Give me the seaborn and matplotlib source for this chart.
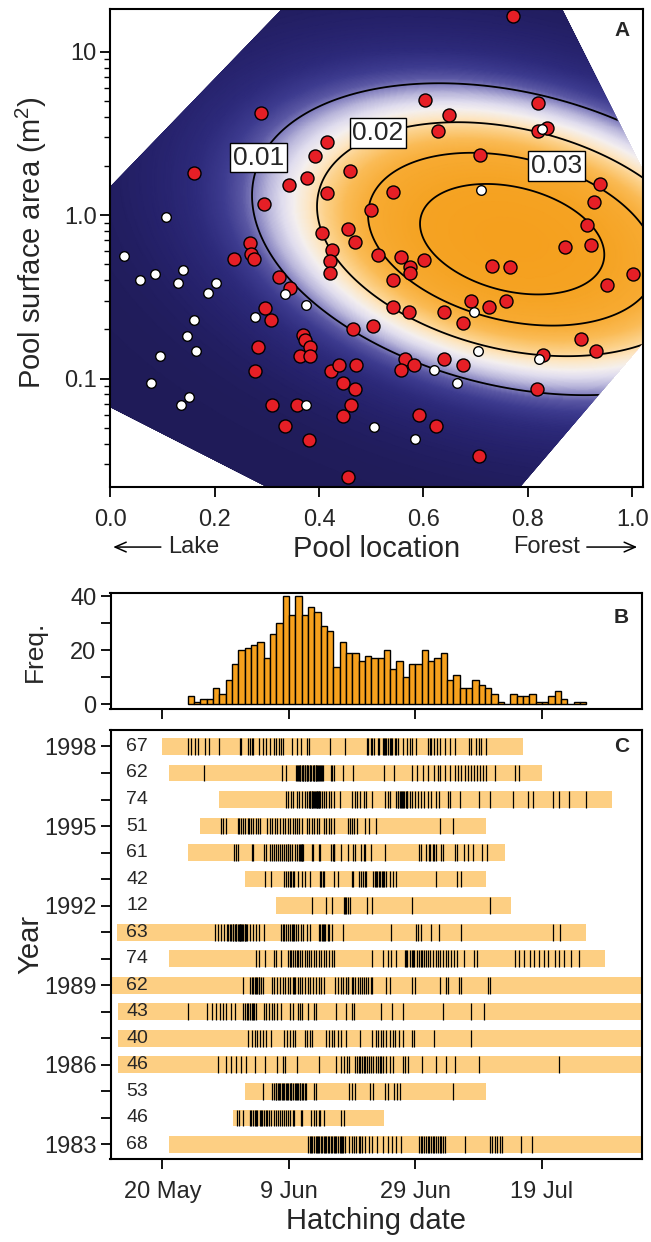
import numpy as np
import pandas as pd
import matplotlib
matplotlib.use("Agg")
import matplotlib.pyplot as plt
import seaborn as sns
from matplotlib.colors import LinearSegmentedColormap
from matplotlib.patches import Polygon
from matplotlib.ticker import FixedLocator, NullFormatter

# ---------------- Panel A data ----------------
red_location = [0.771, 0.289, 0.160, 0.416, 0.392, 0.460, 0.376, 0.343, 0.416, 0.294, 0.500, 0.406, 0.455,
                0.469, 0.268, 0.602, 0.648, 0.819, 0.628, 0.836, 0.820, 0.708, 0.938, 0.927, 0.914, 0.542,
                0.871, 0.922, 0.269, 0.276, 0.236, 0.425, 0.421, 0.421, 0.323, 0.344, 0.297, 0.308, 0.465,
                0.503, 0.370, 0.373, 0.382, 0.364, 0.382, 0.283, 0.278, 0.423, 0.439, 0.470, 0.446, 0.468,
                0.309, 0.357, 0.462, 0.446, 0.335, 0.381, 0.456, 0.513, 0.557, 0.574, 0.575, 0.601, 0.542,
                0.731, 0.766, 1.001, 0.952, 0.691, 0.725, 0.759, 0.542, 0.573, 0.640, 0.676, 0.901, 0.931,
                0.829, 0.564, 0.556, 0.582, 0.639, 0.676, 0.818, 0.591, 0.624, 0.707]
red_area = [16.6, 4.23, 1.80, 2.81, 2.30, 1.87, 1.68, 1.52, 1.37, 1.17, 1.07, 0.78, 0.82,
            0.69, 0.68, 5.06, 4.13, 4.83, 3.28, 3.40, 3.28, 2.33, 1.55, 1.21, 0.87, 1.39,
            0.64, 0.655, 0.58, 0.54, 0.54, 0.61, 0.525, 0.44, 0.42, 0.356, 0.272, 0.228, 0.20,
            0.21, 0.184, 0.173, 0.156, 0.138, 0.138, 0.156, 0.112, 0.112, 0.121, 0.121, 0.0946, 0.0858,
            0.0685, 0.0685, 0.0685, 0.0594, 0.0509, 0.042, 0.025, 0.574, 0.556, 0.483, 0.44, 0.528, 0.40,
            0.492, 0.483, 0.435, 0.373, 0.30, 0.273, 0.30, 0.275, 0.256, 0.256, 0.22, 0.175, 0.148,
            0.139, 0.131, 0.113, 0.121, 0.131, 0.121, 0.0861, 0.0597, 0.0511, 0.0335]
white_location = [0.107, 0.828, 0.710, 0.026, 0.057, 0.085, 0.139, 0.129, 0.203, 0.188, 0.335, 0.374,
                  0.278, 0.161, 0.147, 0.164, 0.095, 0.077, 0.150, 0.136, 0.374, 0.505, 0.697, 0.705,
                  0.821, 0.620, 0.665, 0.583]
white_area = [0.98, 3.36, 1.42, 0.564, 0.40, 0.435, 0.463, 0.382, 0.382, 0.336, 0.329, 0.281,
              0.237, 0.228, 0.182, 0.148, 0.138, 0.0946, 0.0773, 0.0685, 0.0685, 0.0506, 0.255, 0.148,
              0.131, 0.113, 0.094, 0.0424]

# fitted density surface (bivariate normal in location x log10(area))
surf_center = [0.77, -0.147]
surf_sd = [0.28, 0.536]
surf_rho = -0.28
surf_peak = 0.0488
contour_levels = [0.01, 0.02, 0.03, 0.04]
contour_labels = ["0.01", "0.02", "0.03"]
contour_label_pos = [(0.284, 2.25), (0.513, 3.18), (0.855, 2.0)]
# region where the surface is drawn
region = [(0.0, 0.0671), (0.0, 1.49), (0.328, 18.4), (0.865, 18.4), (1.02, 1.88),
          (1.02, 0.164), (0.785, 0.0217), (0.30, 0.0217)]

# ---------------- Panel B data ----------------
hist_first_day = 4  # days after 20 May
hist_counts = [3, 1, 2, 2, 6, 4, 9, 15, 20, 21,
               22, 23, 17, 26, 30, 40, 33, 40, 33, 36,
               34, 29, 27, 14, 23, 19, 19, 16, 18, 17,
               17, 20, 13, 16, 10, 15, 15, 20, 16, 17,
               19, 9, 11, 6, 6, 9, 7, 6, 4, 1,
               0, 4, 3, 3, 4, 1, 1, 3, 5, 2,
               0, 1, 1]

# ---------------- Panel C data ----------------
years = [1998, 1997, 1996, 1995, 1994, 1993, 1992, 1991, 1990, 1989, 1988, 1987, 1986, 1985, 1984, 1983]
n_broods = [67, 62, 74, 51, 61, 42, 12, 63, 74, 62, 43, 40, 46, 53, 46, 68]
season_start = [0, 1, 9, 6, 4, 13, 18, -7.1, 1, -8, -7, -7, -7, 13, 11.1, 1]
season_end = [57, 60, 71.1, 51.1, 54.1, 51.1, 55.1, 67, 70, 80, 80, 80, 80, 51.1, 35, 80]

hatch_1998 = [4.1, 4.6, 5.1, 5.7, 6.8, 7.3, 9.0, 12.2, 12.5, 13.5, 13.8, 14.1, 14.4, 15.2, 15.9, 16.4, 17.0,
              17.6, 17.9, 18.4, 18.8, 19.1, 20.5, 21.2, 21.9, 22.9, 23.1, 26.5, 28.8, 32.3, 32.5, 32.9, 33.2,
              33.5, 34.0, 34.3, 34.9, 35.1, 35.2, 35.4, 35.6, 35.9, 36.1, 36.3, 36.7, 37.0, 37.2, 38.1, 38.6,
              39.1, 39.4, 40.1, 42.0, 42.3, 42.5, 43.0, 43.4, 43.8, 44.7, 45.5, 46.3, 48.5, 48.8, 49.6, 50.0,
              50.4, 51.1]
hatch_1997 = [6.5, 18.9, 19.5, 21.1, 21.2, 21.4, 21.6, 21.7, 21.8, 22.0, 22.2, 22.3, 22.5, 22.6, 22.8, 22.9,
              23.0, 23.3, 23.4, 23.5, 23.8, 23.9, 24.0, 24.2, 24.3, 24.5, 24.6, 24.8, 24.9, 25.0, 25.2, 25.4,
              26.6, 26.8, 27.1, 28.6, 30.2, 35.1, 36.6, 39.5, 40.3, 41.2, 42.0, 42.9, 43.5, 43.9, 44.7, 45.5,
              46.2, 46.7, 47.2, 47.8, 48.3, 48.7, 49.3, 49.7, 50.2, 50.6, 51.1, 52.6, 55.7, 56.4]
hatch_1996 = [19.5, 19.9, 20.4, 20.7, 21.2, 21.6, 22.1, 22.5, 22.9, 23.1, 23.3, 23.4, 23.6, 23.7, 23.8, 23.9,
              24.1, 24.3, 24.4, 24.5, 24.6, 24.7, 24.8, 24.9, 25.3, 25.6, 25.9, 26.3, 26.7, 27.1, 28.0, 30.0,
              30.4, 30.8, 31.2, 31.8, 32.2, 33.2, 35.2, 35.6, 35.9, 37.0, 37.2, 37.3, 37.5, 37.7, 37.8, 38.0,
              38.2, 38.5, 38.6, 38.7, 39.1, 39.4, 39.9, 40.4, 40.8, 41.4, 41.9, 42.4, 43.3, 43.7, 45.1, 45.4,
              47.0, 50.1, 51.8, 55.4, 57.8, 58.6, 61.7, 62.7, 64.2, 66.9]
hatch_1995 = [9.3, 9.6, 10.0, 11.9, 12.1, 12.4, 12.8, 13.1, 13.5, 13.7, 14.0, 14.4, 14.8, 15.1, 15.4, 16.6,
              17.0, 17.4, 17.8, 18.1, 18.6, 19.0, 19.3, 19.8, 20.2, 20.6, 20.9, 21.3, 21.6, 22.0, 22.8, 23.1,
              23.6, 23.9, 24.4, 24.7, 25.6, 25.9, 26.3, 26.7, 27.1, 29.3, 29.6, 30.0, 30.3, 30.7, 32.1, 32.6,
              33.7, 43.8, 46.0]
hatch_1994 = [11.3, 11.6, 12.0, 14.1, 14.4, 16.0, 16.4, 17.0, 17.4, 17.7, 17.9, 18.2, 18.6, 18.9, 19.2, 19.5,
              19.8, 19.9, 20.2, 20.5, 20.9, 21.3, 21.6, 21.8, 21.9, 22.0, 22.1, 22.3, 23.6, 23.8, 24.7, 24.9,
              26.6, 26.9, 27.1, 27.2, 28.2, 29.3, 30.1, 30.5, 31.4, 31.8, 32.1, 33.0, 35.2, 40.5, 40.9, 41.6,
              42.2, 42.3, 42.7, 43.0, 43.3, 44.1, 44.4, 46.3, 46.6, 47.7, 48.3, 49.1, 50.5, 51.3]
hatch_1993 = [16.2, 17.2, 19.2, 19.5, 19.8, 20.1, 20.4, 20.6, 20.8, 21.5, 22.0, 22.6, 23.4, 24.9, 25.1, 25.4,
              25.6, 27.1, 27.7, 29.9, 30.2, 31.1, 31.4, 31.7, 32.0, 32.2, 33.3, 33.6, 33.8, 33.9, 34.2, 34.4,
              34.7, 34.9, 35.0, 35.4, 36.0, 36.5, 37.0, 43.2, 46.5, 47.2]
hatch_1992 = [23.7, 25.8, 26.8, 28.7, 28.8, 29.0, 29.3, 29.6, 32.4, 33.2, 39.4, 51.7]
hatch_1991 = [8.3, 8.8, 9.3, 9.7, 10.2, 10.4, 10.7, 10.9, 11.1, 11.2, 11.4, 11.6, 11.7, 11.9, 12.1, 12.2, 12.3,
              12.5, 12.6, 12.7, 13.0, 13.1, 13.2, 13.4, 13.9, 14.3, 14.8, 15.3, 16.0, 18.7, 19.0, 19.2, 19.5,
              19.8, 20.1, 20.5, 20.6, 20.8, 21.1, 21.5, 21.9, 22.3, 22.9, 23.4, 24.7, 24.9, 25.2, 25.4, 25.5,
              25.7, 26.1, 26.4, 26.8, 28.5, 36.1, 40.1, 40.4, 40.8, 42.4, 43.7, 47.2, 61.7, 62.9]
hatch_1990 = [14.8, 15.3, 16.2, 17.6, 17.9, 18.8, 19.9, 20.1, 20.4, 20.6, 20.9, 21.2, 21.5, 21.8, 22.1, 22.5,
              22.8, 23.1, 23.5, 23.9, 24.3, 24.7, 25.1, 25.5, 25.9, 26.4, 26.8, 27.2, 33.1, 34.9, 35.6, 36.1,
              37.0, 38.4, 38.5, 38.7, 39.1, 39.4, 39.6, 39.8, 40.3, 40.5, 40.8, 41.0, 41.3, 41.6, 41.9, 42.3,
              42.7, 43.2, 43.5, 43.9, 44.4, 44.8, 45.2, 45.6, 46.1, 46.6, 47.6, 49.3, 49.7, 55.7, 56.4, 57.2,
              58.1, 58.8, 59.5, 60.3, 61.0, 62.0, 62.7, 63.5, 64.5, 65.9]
hatch_1989 = [12.7, 13.9, 14.1, 14.4, 14.6, 14.8, 15.0, 15.2, 15.3, 15.6, 15.9, 17.3, 17.7, 18.1, 18.6, 19.0,
              19.3, 19.8, 20.2, 20.6, 20.8, 21.0, 21.4, 21.7, 22.1, 22.6, 23.0, 23.4, 23.8, 24.3, 24.7, 25.1,
              25.5, 27.3, 27.7, 28.2, 28.6, 29.0, 29.3, 29.4, 29.9, 30.2, 30.5, 30.9, 31.2, 31.5, 31.9, 32.2,
              32.5, 32.9, 33.2, 35.3, 35.9, 39.5, 40.0, 43.9, 44.8, 45.2, 46.9, 47.2, 51.4, 51.7]
hatch_1988 = [4.0, 7.1, 7.8, 8.4, 9.1, 9.6, 10.1, 10.8, 11.5, 12.8, 13.0, 13.3, 13.6, 13.9, 14.1, 14.3, 14.5,
              14.8, 16.0, 16.4, 16.9, 17.3, 17.7, 18.1, 18.7, 20.1, 20.6, 21.4, 21.7, 22.1, 23.0, 24.0, 24.3,
              27.5, 29.0, 30.0, 30.3, 34.6, 36.3, 38.0, 44.4, 48.7, 50.8]
hatch_1987 = [13.6, 14.2, 14.6, 15.0, 15.4, 15.9, 16.4, 17.1, 19.2, 19.7, 20.1, 20.6, 21.0, 22.5, 22.9, 23.3,
              23.7, 25.9, 26.4, 26.8, 27.2, 27.7, 28.3, 29.0, 31.3, 33.2, 33.7, 34.0, 34.5, 34.9, 35.3, 35.9,
              36.4, 36.8, 37.4, 38.0, 39.4, 39.8, 42.9, 48.7]
hatch_1986 = [8.8, 10.0, 10.8, 11.6, 12.4, 13.2, 14.6, 16.2, 18.1, 19.0, 19.4, 21.3, 24.7, 27.5, 28.2, 28.7,
              29.2, 29.5, 30.4, 30.7, 31.0, 31.3, 31.5, 31.8, 32.1, 32.4, 32.6, 33.0, 33.3, 33.7, 34.0, 34.4,
              34.6, 34.9, 35.4, 36.0, 36.5, 38.0, 38.4, 38.8, 41.1, 43.2, 44.8, 46.3, 50.1, 62.7]
hatch_1985 = [15.9, 17.4, 17.6, 17.9, 18.0, 18.3, 18.5, 18.6, 18.9, 19.1, 19.2, 19.5, 19.7, 19.8, 20.1, 20.3,
              20.4, 20.7, 20.9, 21.1, 21.2, 21.5, 21.7, 21.8, 22.1, 22.3, 22.5, 22.7, 23.9, 24.3, 29.5, 30.0,
              30.4, 32.8, 33.3, 35.2, 35.7, 36.6, 37.1, 37.6, 46.0]
hatch_1984 = [11.8, 12.1, 12.7, 13.8, 14.0, 14.3, 14.6, 14.8, 15.0, 15.4, 15.6, 15.8, 16.0, 16.3, 16.6, 16.9,
              17.2, 17.6, 17.9, 18.2, 18.6, 18.9, 19.2, 19.6, 19.9, 20.2, 20.6, 20.8, 21.9, 22.1, 23.5, 23.9,
              24.3, 24.7, 24.9, 25.6, 28.2, 28.7]
hatch_1983 = [23.0, 23.3, 23.5, 23.7, 23.9, 24.2, 24.4, 24.6, 24.8, 25.0, 25.3, 25.5, 25.7, 25.9, 26.2, 26.4,
              26.6, 26.8, 27.1, 27.3, 27.5, 27.7, 28.0, 28.2, 28.4, 28.6, 28.8, 29.5, 30.0, 30.3, 30.6, 31.0,
              31.3, 31.6, 32.1, 32.6, 33.2, 33.9, 34.8, 35.6, 36.3, 37.0, 37.7, 40.5, 40.8, 41.0, 41.3, 41.6,
              41.9, 42.2, 42.4, 42.7, 43.0, 43.3, 43.5, 43.8, 44.1, 44.4, 44.7, 47.9, 51.8, 52.1, 52.5, 52.9,
              53.3, 53.7, 56.6, 58.4]
hatch_by_year = [hatch_1998, hatch_1997, hatch_1996, hatch_1995, hatch_1994, hatch_1993, hatch_1992,
                 hatch_1991, hatch_1990, hatch_1989, hatch_1988, hatch_1987, hatch_1986, hatch_1985,
                 hatch_1984, hatch_1983]

date_ticks = [0, 20, 40, 60]
date_labels = ["20 May", "9 Jun", "29 Jun", "19 Jul"]

# ---------------- style ----------------
sns.set_style("ticks")
plt.rcParams["font.family"] = ["Liberation Sans", "DejaVu Sans"]
plt.rcParams["mathtext.fontset"] = "custom"
plt.rcParams["mathtext.rm"] = "Liberation Sans"
plt.rcParams["mathtext.it"] = "Liberation Sans:italic"
plt.rcParams["axes.linewidth"] = 1.5
plt.rcParams["axes.edgecolor"] = "black"

TICK_FS = 17
LABEL_FS = 21
W, H = 651, 1242
fig = plt.figure(figsize=(W / 100, H / 100), dpi=100)


def ax_px(left, top, right, bottom):
    return fig.add_axes([left / W, 1 - bottom / H, (right - left) / W, (bottom - top) / H])


def style_ticks(ax):
    ax.tick_params(axis="both", which="major", direction="out", length=7, width=1.3,
                   labelsize=TICK_FS, color="black", pad=3)
    ax.tick_params(axis="x", which="major", pad=8.5)
    ax.tick_params(axis="both", which="minor", direction="out", length=4, width=1.0, color="black")


# ================= Panel A =================
axA = ax_px(110.4, 8.5, 642.6, 487)
xmin, xmax = 0.0, 1.02
ymin, ymax = 0.0217, 18.4
gx = np.linspace(xmin, xmax, 500)
gv = np.linspace(np.log10(ymin), np.log10(ymax), 500)
GX, GV = np.meshgrid(gx, gv)
dx = (GX - surf_center[0]) / surf_sd[0]
dv = (GV - surf_center[1]) / surf_sd[1]
Q = (dx ** 2 - 2 * surf_rho * dx * dv + dv ** 2) / (1 - surf_rho ** 2)
Z = surf_peak * np.exp(-0.5 * Q)

cnodes = [(0.0, "#1f1b58"), (0.002, "#25216a"), (0.0045, "#2d2a7b"), (0.0068, "#3d3b8f"),
          (0.0088, "#5b58a4"), (0.0104, "#8d8ac4"), (0.012, "#bbb8dc"), (0.014, "#e0ddee"),
          (0.016, "#f5f0ef"), (0.0185, "#fde7c6"), (0.0215, "#fcd28b"), (0.0255, "#fabb55"),
          (0.031, "#f7aa31"), (0.04, "#f5a323"), (surf_peak, "#f5a01e")]
cmap = LinearSegmentedColormap.from_list("lakeforest", [(v / surf_peak, c) for v, c in cnodes])

clip = Polygon(region, closed=True, transform=axA.transData, facecolor="none", edgecolor="none")
axA.set_yscale("log")
axA.set_xlim(xmin, xmax)
axA.set_ylim(ymin, ymax)
mesh = axA.pcolormesh(GX, 10 ** GV, Z, cmap=cmap, vmin=0, vmax=surf_peak, shading="gouraud",
                      rasterized=True, zorder=1)
mesh.set_clip_path(clip)
cs = axA.contour(GX, 10 ** GV, Z, levels=contour_levels, colors="black", linewidths=1.3, zorder=2)
cs.set_clip_path(clip)

sns.scatterplot(x=red_location, y=red_area, ax=axA, color="#e61f26", s=88, edgecolor="black",
                linewidth=1.0, zorder=4, legend=False)
sns.scatterplot(x=white_location, y=white_area, ax=axA, color="white", s=48, edgecolor="black",
                linewidth=1.0, zorder=5, legend=False)
for lab, (lx, ly) in zip(contour_labels, contour_label_pos):
    axA.text(lx, ly, lab, fontsize=19, ha="center", va="center", zorder=6,
             bbox=dict(boxstyle="square,pad=0.1", facecolor="white", edgecolor="black", linewidth=1.0))

axA.set_xticks([0.0, 0.2, 0.4, 0.6, 0.8, 1.0])
axA.set_xticklabels(["0.0", "0.2", "0.4", "0.6", "0.8", "1.0"])
axA.yaxis.set_major_locator(FixedLocator([0.1, 1.0, 10.0]))
axA.set_yticklabels(["0.1", "1.0", "10"])
minor = [m * 10.0 ** e for e in (-2, -1, 0, 1) for m in range(2, 10)]
minor = [m for m in minor if ymin <= m <= ymax]
axA.yaxis.set_minor_locator(FixedLocator(minor))
axA.yaxis.set_minor_formatter(NullFormatter())
style_ticks(axA)
axA.set_xlabel("Pool location", fontsize=LABEL_FS, labelpad=3)
axA.set_ylabel("Pool surface area (m$^2$)", fontsize=LABEL_FS)
axA.yaxis.set_label_coords(-0.115, 0.51)
axA.text(0.961, 0.955, "A", transform=axA.transAxes, fontsize=15, fontweight="bold",
         ha="center", va="center", zorder=7)
# Lake / Forest arrows
yl = -0.1255
axA.annotate("", xy=(0.0, yl), xytext=(0.1, yl), xycoords="axes fraction",
             arrowprops=dict(arrowstyle="->,head_length=0.8,head_width=0.35", lw=1.1, color="black"))
axA.text(0.108, yl, "Lake", transform=axA.transAxes, fontsize=17, ha="left", va="center")
axA.text(0.757, yl, "Forest", transform=axA.transAxes, fontsize=17, ha="left", va="center")
axA.annotate("", xy=(0.995, yl), xytext=(0.89, yl), xycoords="axes fraction",
             arrowprops=dict(arrowstyle="->,head_length=0.8,head_width=0.35", lw=1.1, color="black"))
for s in axA.spines.values():
    s.set_zorder(8)

# ================= Panel B =================
axB = ax_px(110.5, 593, 642, 709)
bin_edges = [float(hist_first_day + i) for i in range(len(hist_counts) + 1)]
hist_df = pd.DataFrame({"day": [e + 0.5 for e in bin_edges[:-1]], "count": hist_counts})
sns.histplot(data=hist_df, x="day", weights="count", bins=bin_edges, ax=axB, color="#f7a11d",
             edgecolor="black", linewidth=1.0, alpha=1.0)
axB.set_xlim(-8.2, 75.8)
axB.set_ylim(-1.7, 41.2)
axB.set_xticks(date_ticks)
axB.set_xticklabels([])
axB.set_yticks([0, 10, 20, 30, 40])
axB.set_yticklabels(["0", "", "20", "", "40"])
style_ticks(axB)
axB.set_xlabel("")
axB.set_ylabel("Freq.", fontsize=19)
axB.yaxis.set_label_coords(-0.12, 0.5)
axB.text(0.961, 0.79, "B", transform=axB.transAxes, fontsize=15, fontweight="bold",
         ha="center", va="center")

# ================= Panel C =================
axC = ax_px(110.5, 730, 642, 1159)
bar_h = 0.63
widths = [e - s for s, e in zip(season_start, season_end)]
axC.barh(years, widths, left=season_start, height=bar_h, color="#fdcf83", edgecolor="none", zorder=1)
axC.eventplot(hatch_by_year, orientation="horizontal", lineoffsets=years, linelengths=bar_h,
              linewidths=0.9, colors="black", zorder=2)
for yr, n in zip(years, n_broods):
    axC.text(-4.0, yr, str(n), fontsize=14, ha="center", va="center", zorder=3)
axC.set_xlim(-8.2, 75.8)
axC.set_ylim(1982.45, 1998.62)
axC.set_yticks(years)
axC.set_yticklabels([str(y) if (y - 1983) % 3 == 0 else "" for y in years])
axC.set_xticks(date_ticks)
axC.set_xticklabels(date_labels)
style_ticks(axC)
axC.set_xlabel("Hatching date", fontsize=LABEL_FS, labelpad=3)
axC.set_ylabel("Year", fontsize=LABEL_FS)
axC.yaxis.set_label_coords(-0.125, 0.5)
axC.text(0.961, 0.962, "C", transform=axC.transAxes, fontsize=15, fontweight="bold",
         ha="center", va="center", zorder=5)

fig.savefig("out.png", dpi=100)
